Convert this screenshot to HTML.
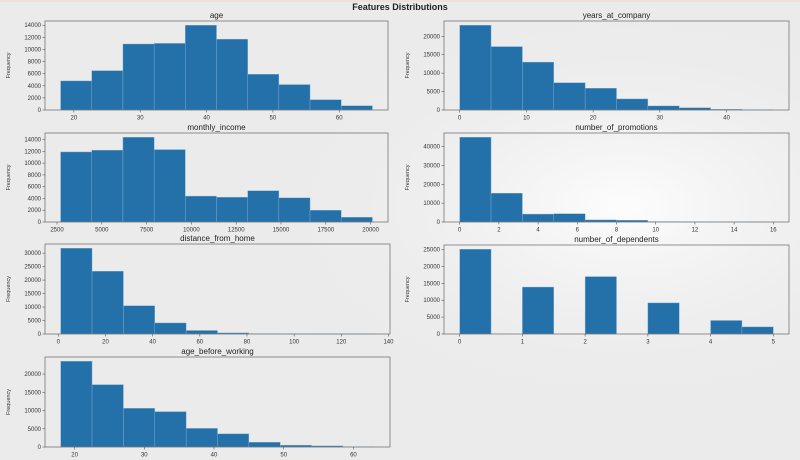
<!DOCTYPE html>
<html><head><meta charset="utf-8"><style>
html,body{margin:0;padding:0;}
body{width:800px;height:460px;overflow:hidden;background:#ebebeb;font-family:"Liberation Sans",sans-serif;}
svg{display:block}
</style></head><body>
<svg id="fig" width="800" height="460" xmlns="http://www.w3.org/2000/svg">
<defs><radialGradient id="glow" cx="0.78" cy="0.45" r="0.45"><stop offset="0" stop-color="#ffffff" stop-opacity="0.9"/><stop offset="1" stop-color="#ebebeb" stop-opacity="0"/></radialGradient></defs>
<rect width="800" height="460" fill="#ebebeb"/>
<rect width="800" height="460" fill="url(#glow)"/>
<rect width="800" height="2" fill="#f3dede"/>
<text x="400" y="10" text-anchor="middle" font-size="9" font-weight="bold" fill="#222">Features Distributions</text>
</svg>
<script>
// ---- data ----
const ageEdges = [18, 65];
const ageCounts = [4800, 6500, 10900, 11000, 14000, 11700, 5900, 4200, 1700, 700];
const ageTicks = [20, 30, 40, 50, 60];
const ageYTicks = [0, 2000, 4000, 6000, 8000, 10000, 12000, 14000];

const incomeEdges = [2700, 20100];
const incomeCounts = [11900, 12200, 14400, 12300, 4400, 4200, 5300, 4100, 2000, 800];
const incomeTicks = [2500, 5000, 7500, 10000, 12500, 15000, 17500, 20000];
const incomeYTicks = [0, 2000, 4000, 6000, 8000, 10000, 12000, 14000];

const yacEdges = [0, 47];
const yacCounts = [23000, 17200, 13000, 7400, 5900, 3000, 1100, 600, 200, 50];
const yacTicks = [0, 10, 20, 30, 40];
const yacYTicks = [0, 5000, 10000, 15000, 20000];

const promoEdges = [0, 16];
const promoCounts = [45000, 15300, 4200, 4400, 1100, 900, 200, 50, 20, 10];
const promoTicks = [0, 2, 4, 6, 8, 10, 12, 14, 16];
const promoYTicks = [0, 10000, 20000, 30000, 40000];

const distEdges = [1, 134];
const distCounts = [31800, 23300, 10500, 4100, 1300, 400, 100, 50, 20, 10];
const distTicks = [0, 20, 40, 60, 80, 100, 120, 140];
const distYTicks = [0, 5000, 10000, 15000, 20000, 25000, 30000];

const abwEdges = [18, 63];
const abwCounts = [23500, 17100, 10600, 9700, 5100, 3600, 1300, 500, 300, 30];
const abwTicks = [20, 30, 40, 50, 60];
const abwYTicks = [0, 5000, 10000, 15000, 20000];

const depEdges = [0, 5];
const depCounts = [25100, 0, 13900, 0, 17000, 0, 9200, 0, 4000, 2100];
const depTicks = [0, 1, 2, 3, 4, 5];
const depYTicks = [0, 5000, 10000, 15000, 20000, 25000];

const panels = [
  {name:'age', edges:ageEdges, counts:ageCounts, xt:ageTicks, yt:ageYTicks, box:[45,21,388,110]},
  {name:'monthly_income', edges:incomeEdges, counts:incomeCounts, xt:incomeTicks, yt:incomeYTicks, box:[45,133,388,222]},
  {name:'years_at_company', edges:yacEdges, counts:yacCounts, xt:yacTicks, yt:yacYTicks, box:[444,21,789,110]},
  {name:'number_of_promotions', edges:promoEdges, counts:promoCounts, xt:promoTicks, yt:promoYTicks, box:[444,133,789,222]},
  {name:'distance_from_home', edges:distEdges, counts:distCounts, xt:distTicks, yt:distYTicks, box:[45,244,390,334]},
  {name:'age_before_working', edges:abwEdges, counts:abwCounts, xt:abwTicks, yt:abwYTicks, box:[45,357,390,447]},
  {name:'number_of_dependents', edges:depEdges, counts:depCounts, xt:depTicks, yt:depYTicks, box:[444,245,789,334]}
];

const NS = 'http://www.w3.org/2000/svg';
const svg = document.getElementById('fig');
function mk(tag, attrs, parent){
  const e = document.createElementNS(NS, tag);
  for (const k in attrs) e.setAttribute(k, attrs[k]);
  (parent||svg).appendChild(e);
  return e;
}
panels.forEach(p => {
  const [L,T,R,B] = p.box;
  const g = mk('g', {});
  
  
  const lo = p.edges[0], hi = p.edges[1], span = hi - lo;
  const xmin = lo - span*0.05, xmax = hi + span*0.05;
  const ymax = Math.max(...p.counts) * 1.05;
  const xs = v => L + (v - xmin) / (xmax - xmin) * (R - L);
  const ys = v => B - v / ymax * (B - T);
  const n = p.counts.length, w = span / n;
  p.counts.forEach((c, i) => {
    if (c <= 0) return;
    const x0 = xs(lo + i*w), x1 = xs(lo + (i+1)*w);
    const r = mk('rect', {x:x0, y:ys(c), width:Math.max(x1-x0,0.5), height:B-ys(c), fill:'#2470a8', stroke:'#7fb0d6', 'stroke-width':0.4}, g);
    
    
  });
  const frame = mk('rect', {x:L, y:T, width:R-L, height:B-T, fill:'none', stroke:'#777', 'stroke-width':0.8}, g);
  
  
  const title = mk('text', {x:(L+R)/2, y:T-3, 'text-anchor':'middle', 'font-size':8, fill:'#222'}, g);
  title.textContent = p.name;
  
  
  p.xt.forEach(t => {
    const x = xs(t);
    mk('line', {x1:x, y1:B, x2:x, y2:B+2.5, stroke:'#555', 'stroke-width':0.6}, g);
    const tx = mk('text', {x:x, y:B+9.5, 'text-anchor':'middle', 'font-size':6, fill:'#333'}, g);
    tx.textContent = t;
    
    
  });
  p.yt.forEach(t => {
    const y = ys(t);
    mk('line', {x1:L-2.5, y1:y, x2:L, y2:y, stroke:'#555', 'stroke-width':0.6}, g);
    const ty = mk('text', {x:L-4, y:y+2, 'text-anchor':'end', 'font-size':6, fill:'#333'}, g);
    ty.textContent = t;
    
    
  });
  const yl = mk('text', {x:0, y:0, 'text-anchor':'middle', 'font-size':5.5, fill:'#333', transform:`translate(${L-35},${(T+B)/2}) rotate(-90)`}, g);
  yl.textContent = 'Frequency';
  
  
});
</script>
</body></html>
